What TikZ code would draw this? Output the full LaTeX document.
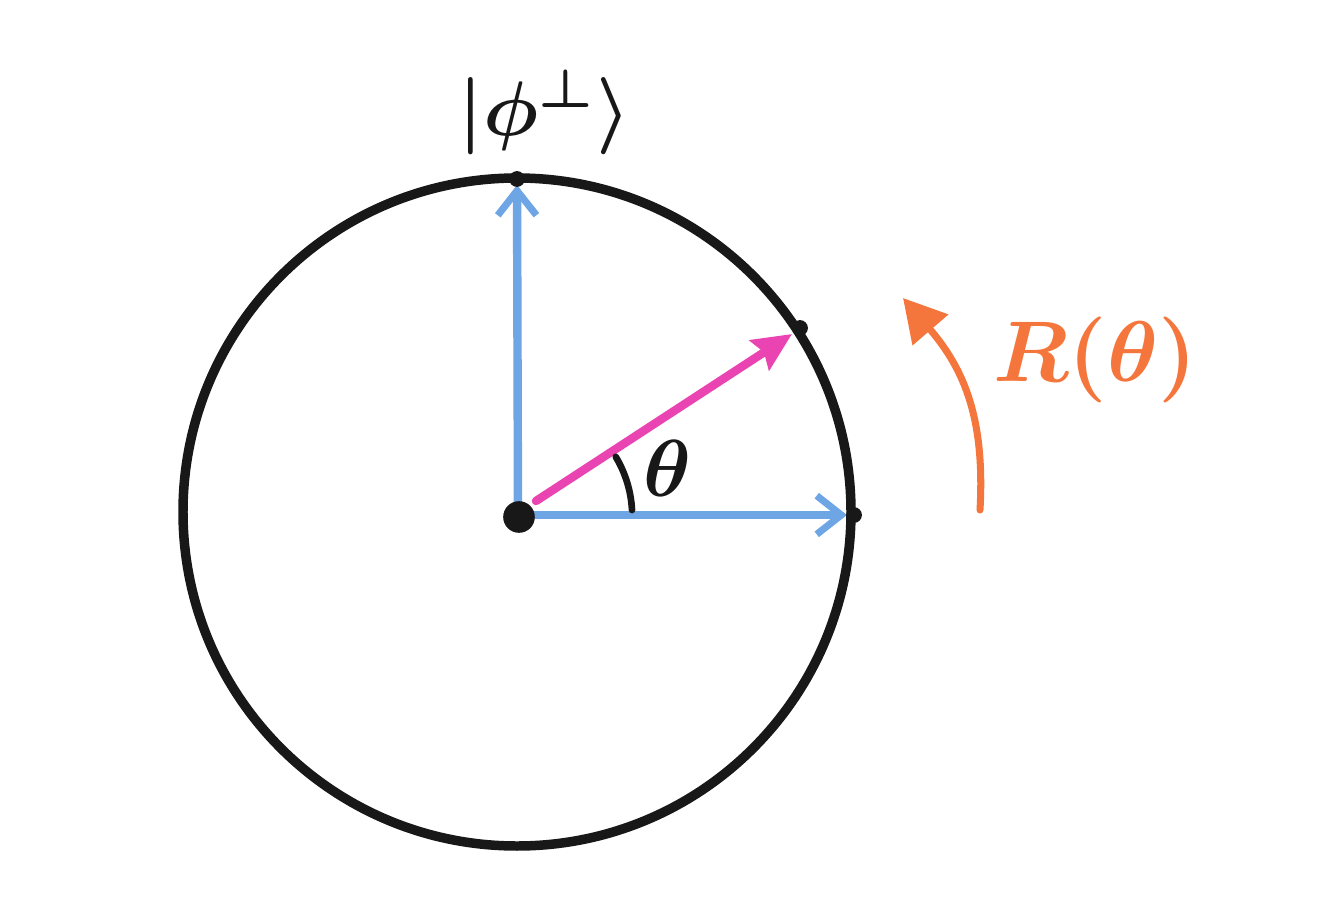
\documentclass[tikz,border=0pt]{standalone}
\usepackage{amsmath,amssymb}
\usetikzlibrary{calc, positioning, arrows.meta}
\definecolor{AxisBlue}{RGB}{110,165,228}
\definecolor{StatePink}{RGB}{233,68,178}
\definecolor{RotOrange}{RGB}{245,118,60}
\definecolor{InkBlack}{RGB}{24,24,24}

\begin{document}
\begin{tikzpicture}[
  x=0.02cm, y=-0.02cm,
  bigmath/.style={font=\boldmath, scale=#1},
  dotmark/.style={circle, fill=InkBlack, inner sep=0pt, minimum size=#1},
  axisarrow/.style={-{Straight Barb[length=14pt, width=22pt, line width=4pt]}, line width=4.8pt, draw=AxisBlue, line cap=round},
  statearrow/.style={-{Stealth[length=22pt, width=20pt, inset=3pt]}, line width=4.8pt, draw=StatePink, line cap=round},
  rotarrow/.style={-{Triangle[length=24pt, width=26pt]}, line width=4pt, draw=RotOrange, line cap=round}
]
\useasboundingbox (0,0) rectangle (1326,916);
\coordinate (origin) at (518,515);
\coordinate (top) at (517,179);
\coordinate (right) at (854,515);
\coordinate (state) at (800,328);
\draw[line width=5.4pt, InkBlack] (517,512) circle[radius=334];
\draw[axisarrow] (origin) -- ($(top)+(0,6)$);
\draw[axisarrow] (origin) -- ($(right)+(-7,0)$);
\draw[statearrow] ($(origin)+(18,-14)$) -- ($(state)+(-8,6)$);
\draw[line width=3.8pt, InkBlack, line cap=round] ($(origin)+(114,-5)$) arc[start angle=-3, end angle=-31, radius=115];
\node[dotmark=18pt] (origindot) at ($(origin)+(1,2)$) {};
\node[dotmark=9pt] (topdot) at (top) {};
\node[dotmark=9pt] (rightdot) at (right) {};
\node[dotmark=9pt] (statedot) at (state) {};
\node[InkBlack, bigmath=4.4] (perplabel) at (545,112) {$|\phi^{\perp}\rangle$};
\node[InkBlack, bigmath=4.6] (anglelabel) at (667,468) {$\theta$};
\node[RotOrange, bigmath=4.9] (rotlabel) at (1095,360) {$R(\theta)$};
\coordinate (rotstart) at (980,510);
\coordinate (rotend) at (903,298);
\draw[rotarrow] (rotstart) .. controls (985,420) and (965,370) .. (rotend);
\end{tikzpicture}
\end{document}
